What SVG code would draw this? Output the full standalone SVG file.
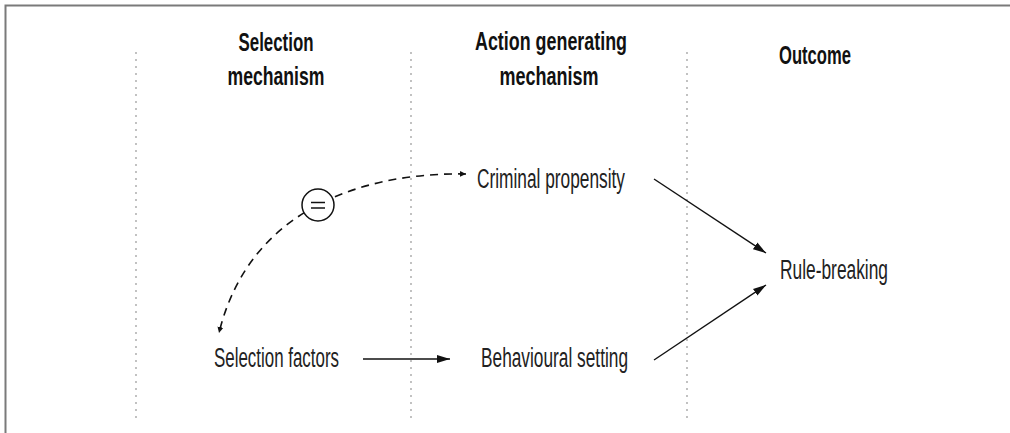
<svg xmlns="http://www.w3.org/2000/svg" width="1010" height="433" viewBox="0 0 1010 433">
<defs>
<style>
.hdr{font-family:"Liberation Sans",Arial,sans-serif;font-weight:bold;font-size:26px;fill:#111;text-anchor:middle}
.lbl{font-family:"Liberation Sans",Arial,sans-serif;font-size:27px;fill:#222}
.div{stroke:#999;stroke-width:1.2;stroke-dasharray:2 5;fill:none}
.solid{stroke:#111;stroke-width:1.4;fill:none;marker-end:url(#ah)}
.dash{stroke:#111;stroke-width:1.6;stroke-dasharray:8 6;fill:none;marker-start:url(#sh);marker-end:url(#sh)}
</style>
<marker id="ah" markerUnits="userSpaceOnUse" markerWidth="14" markerHeight="10" refX="13" refY="5" orient="auto">
<path d="M0,1 L13,5 L0,9 Z" fill="#111"/>
</marker>
<marker id="sh" markerUnits="userSpaceOnUse" markerWidth="8" markerHeight="8" refX="6" refY="4" orient="auto-start-reverse">
<path d="M0,1 L6,4 L0,7 Z" fill="#111"/>
</marker>
</defs>
<rect width="1010" height="433" fill="#fff"/>
<path d="M5.5,433 V5.5 H1010" stroke="#7a7a7a" stroke-width="2" fill="none"/>
<g id="dividers">
<line class="div" x1="136" y1="52" x2="136" y2="420"/>
<line class="div" x1="411" y1="52" x2="411" y2="420"/>
<line class="div" x1="687" y1="52" x2="687" y2="420"/>
</g>
<g id="headers">
<text class="hdr" x="276" y="51" textLength="75" lengthAdjust="spacingAndGlyphs">Selection</text>
<text class="hdr" x="276" y="85" textLength="97" lengthAdjust="spacingAndGlyphs">mechanism</text>
<text class="hdr" x="551" y="50" textLength="152" lengthAdjust="spacingAndGlyphs">Action generating</text>
<text class="hdr" x="549" y="85" textLength="99" lengthAdjust="spacingAndGlyphs">mechanism</text>
<text class="hdr" x="815" y="64" textLength="72" lengthAdjust="spacingAndGlyphs">Outcome</text>
</g>
<g id="connectors">
<path class="dash" d="M466,174 C370,172 250,205 219,333"/>
<line class="solid" x1="363" y1="359" x2="450" y2="359"/>
<line class="solid" x1="654" y1="179" x2="766" y2="253"/>
<line class="solid" x1="654" y1="360" x2="766" y2="285"/>
</g>
<g id="equal-sign">
<circle cx="318" cy="205" r="16" fill="#fff" stroke="#111" stroke-width="1.5"/>
<line x1="311" y1="202.5" x2="325" y2="202.5" stroke="#111" stroke-width="1.5"/>
<line x1="311" y1="208" x2="325" y2="208" stroke="#111" stroke-width="1.5"/>
</g>
<g id="node-criminal-propensity">
<text class="lbl" x="477" y="188" textLength="148" lengthAdjust="spacingAndGlyphs">Criminal propensity</text>
</g>
<g id="node-selection-factors">
<text class="lbl" x="214" y="367" textLength="125" lengthAdjust="spacingAndGlyphs">Selection factors</text>
</g>
<g id="node-behavioural-setting">
<text class="lbl" x="481" y="367" textLength="147" lengthAdjust="spacingAndGlyphs">Behavioural setting</text>
</g>
<g id="node-rule-breaking">
<text class="lbl" x="780" y="279" textLength="108" lengthAdjust="spacingAndGlyphs">Rule-breaking</text>
</g>
</svg>
